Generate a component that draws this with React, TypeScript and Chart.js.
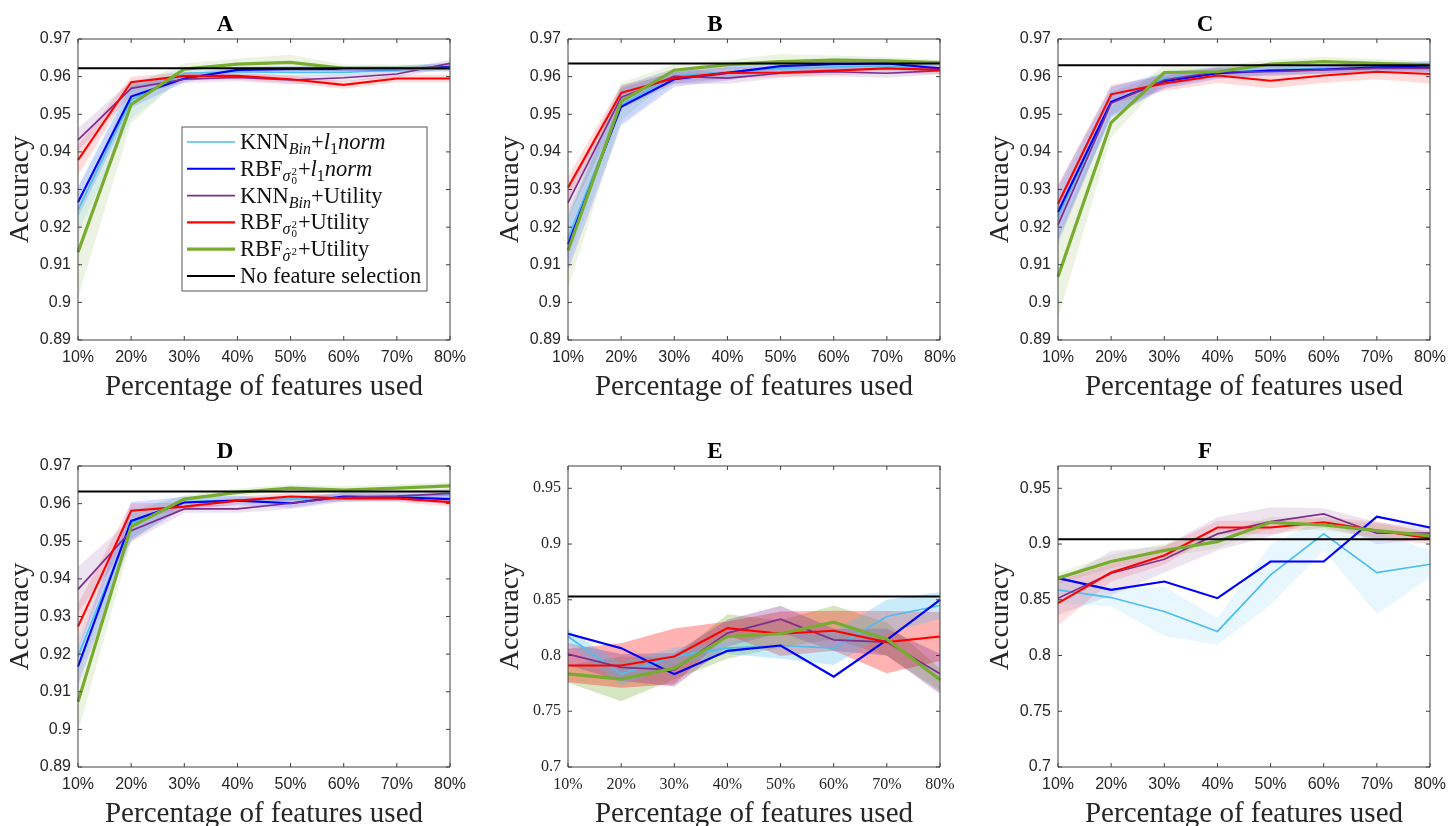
import React, { useEffect, useRef } from 'react'
import { Chart, registerables } from 'chart.js'

Chart.register(...registerables)

const featurePct = ['10%', '20%', '30%', '40%', '50%', '60%', '70%', '80%']
const yTicksHigh = [0.89, 0.9, 0.91, 0.92, 0.93, 0.94, 0.95, 0.96, 0.97]
const yTicksLow = [0.7, 0.75, 0.8, 0.85, 0.9, 0.95]

// order of rows in every mean / spread table below
const methodLabels = ['KNN_Bin+l1norm', 'RBF_σ0²+l1norm', 'KNN_Bin+Utility', 'RBF_σ0²+Utility', 'RBF_σ̂²+Utility']
const methodColors = ['#4DBEEE', '#0000FF', '#7E2F8E', '#FF0000', '#77AC30']
const methodWidths = [1.7, 2.1, 1.7, 2.1, 3.2]

// A
const meanA = [
  [0.9246, 0.9538, 0.9609, 0.9613, 0.9611, 0.9611, 0.9618, 0.9626],
  [0.9266, 0.9547, 0.9595, 0.9618, 0.962, 0.962, 0.962, 0.9626],
  [0.9432, 0.9569, 0.9593, 0.9598, 0.9591, 0.9597, 0.9607, 0.9635],
  [0.9378, 0.9585, 0.9602, 0.9602, 0.9593, 0.9578, 0.9595, 0.9595],
  [0.9133, 0.9526, 0.962, 0.9633, 0.9638, 0.9622, 0.9622, 0.9622],
]
const spreadA = [
  [0.006, 0.005, 0.0012, 0.001, 0.001, 0.001, 0.001, 0.0012],
  [0.004, 0.003, 0.001, 0.0008, 0.0008, 0.0008, 0.0008, 0.001],
  [0.003, 0.002, 0.001, 0.001, 0.0012, 0.001, 0.001, 0.001],
  [0.004, 0.0015, 0.001, 0.001, 0.001, 0.001, 0.001, 0.001],
  [0.012, 0.005, 0.0015, 0.0015, 0.002, 0.001, 0.001, 0.001],
]
const baseA = 0.9622

// B
const meanB = [
  [0.917, 0.9525, 0.9602, 0.9613, 0.9622, 0.9626, 0.9628, 0.9622],
  [0.9154, 0.952, 0.9593, 0.961, 0.9628, 0.9633, 0.9635, 0.9622],
  [0.9265, 0.9545, 0.9601, 0.9596, 0.9609, 0.9613, 0.9609, 0.9616],
  [0.9305, 0.9557, 0.9596, 0.961, 0.9611, 0.9616, 0.9622, 0.9618],
  [0.9138, 0.9534, 0.9617, 0.9632, 0.964, 0.9644, 0.9642, 0.9637],
]
const spreadB = [
  [0.006, 0.005, 0.002, 0.0015, 0.0015, 0.0012, 0.0012, 0.001],
  [0.007, 0.005, 0.002, 0.002, 0.0015, 0.0015, 0.0012, 0.001],
  [0.004, 0.003, 0.002, 0.0015, 0.0012, 0.0012, 0.0012, 0.001],
  [0.003, 0.002, 0.0015, 0.0015, 0.0012, 0.0012, 0.0015, 0.0012],
  [0.01, 0.005, 0.0015, 0.0012, 0.002, 0.0012, 0.001, 0.0008],
]
const baseB = 0.9635

// C
const meanC = [
  [0.9228, 0.9531, 0.9595, 0.9611, 0.9618, 0.9622, 0.9626, 0.9628],
  [0.924, 0.9533, 0.9588, 0.9609, 0.9616, 0.9619, 0.9625, 0.9626],
  [0.9206, 0.9529, 0.9591, 0.9613, 0.9613, 0.9618, 0.9622, 0.9622],
  [0.9262, 0.9553, 0.9582, 0.9603, 0.9589, 0.9603, 0.9613, 0.9607],
  [0.9068, 0.9478, 0.9611, 0.9613, 0.9633, 0.964, 0.9635, 0.9631],
]
const spreadC = [
  [0.007, 0.004, 0.002, 0.0015, 0.0012, 0.0012, 0.0012, 0.0012],
  [0.007, 0.004, 0.002, 0.0015, 0.0012, 0.0012, 0.001, 0.0015],
  [0.005, 0.003, 0.002, 0.0012, 0.0012, 0.001, 0.001, 0.001],
  [0.005, 0.0025, 0.002, 0.002, 0.002, 0.002, 0.002, 0.0025],
  [0.011, 0.004, 0.002, 0.0015, 0.0012, 0.0012, 0.0012, 0.001],
]
const baseC = 0.963

// D
const meanD = [
  [0.9194, 0.9548, 0.9605, 0.961, 0.9612, 0.9617, 0.962, 0.9623],
  [0.9167, 0.9554, 0.9603, 0.9608, 0.9601, 0.9619, 0.9617, 0.9612],
  [0.9372, 0.9528, 0.9586, 0.9586, 0.9601, 0.9617, 0.962, 0.9627],
  [0.9273, 0.9581, 0.9592, 0.9608, 0.9619, 0.9614, 0.9614, 0.9604],
  [0.9073, 0.9539, 0.9612, 0.963, 0.9641, 0.9636, 0.9641, 0.9647],
]
const spreadD = [
  [0.005, 0.004, 0.0015, 0.001, 0.001, 0.001, 0.001, 0.001],
  [0.005, 0.005, 0.0015, 0.0012, 0.0012, 0.001, 0.001, 0.0012],
  [0.006, 0.003, 0.001, 0.001, 0.0015, 0.0012, 0.0012, 0.0012],
  [0.006, 0.002, 0.001, 0.001, 0.001, 0.001, 0.001, 0.0012],
  [0.008, 0.004, 0.001, 0.001, 0.001, 0.001, 0.001, 0.001],
]
const baseD = 0.9632

// E
const meanE = [
  [0.8171, 0.7833, 0.7992, 0.8066, 0.809, 0.8066, 0.835, 0.8449],
  [0.8195, 0.8066, 0.7833, 0.8042, 0.809, 0.781, 0.8141, 0.8499],
  [0.8013, 0.7893, 0.7872, 0.8201, 0.8326, 0.8141, 0.812, 0.7836],
  [0.7911, 0.7911, 0.7992, 0.8246, 0.8195, 0.8222, 0.812, 0.8171],
  [0.7836, 0.7789, 0.7887, 0.8171, 0.8195, 0.8299, 0.8147, 0.7783],
]
const spreadE = [
  [0.006, 0.01, 0.008, 0.005, 0.012, 0.015, 0.015, 0.012],
  [0.001, 0.001, 0.001, 0.001, 0.001, 0.001, 0.001, 0.001],
  [0.01, 0.012, 0.015, 0.012, 0.012, 0.01, 0.012, 0.018],
  [0.015, 0.02, 0.025, 0.006, 0.02, 0.018, 0.028, 0.022],
  [0.008, 0.02, 0.01, 0.02, 0.012, 0.015, 0.015, 0.01],
]
const baseE = 0.853

// F
const meanF = [
  [0.8589, 0.852, 0.8395, 0.8216, 0.8723, 0.9091, 0.8744, 0.8819],
  [0.8694, 0.8589, 0.8664, 0.8514, 0.8843, 0.8843, 0.9246, 0.9148],
  [0.8514, 0.8738, 0.8864, 0.9091, 0.9201, 0.927, 0.9097, 0.9097],
  [0.847, 0.8744, 0.8897, 0.9148, 0.9148, 0.9195, 0.9121, 0.9052],
  [0.8694, 0.8843, 0.8942, 0.9022, 0.9195, 0.9171, 0.9121, 0.9076],
]
const spreadF = [
  [0.012, 0.008, 0.022, 0.012, 0.027, 0.015, 0.037, 0.012],
  [0.001, 0.001, 0.001, 0.001, 0.001, 0.001, 0.001, 0.001],
  [0.015, 0.02, 0.012, 0.015, 0.013, 0.005, 0.01, 0.005],
  [0.02, 0.008, 0.008, 0.006, 0.006, 0.005, 0.008, 0.005],
  [0.005, 0.006, 0.006, 0.006, 0.005, 0.005, 0.006, 0.004],
]
const baseF = 0.9043

const SERIF = '"Liberation Serif", "Times New Roman", serif'
const SANS = '"Liberation Sans", Arial, sans-serif'
const INK = '#262626'

type Seg = { t: string; it?: boolean; sub?: boolean; hat?: boolean; sup?: string; low?: string }

// legend text with the TeX subscripts of the original
const legendRich: Seg[][] = [
  [{ t: 'KNN' }, { t: 'Bin', it: true, sub: true }, { t: '+' }, { t: 'l', it: true }, { t: '1', sub: true }, { t: 'norm', it: true }],
  [{ t: 'RBF' }, { t: 'σ', it: true, sub: true, sup: '2', low: '0' }, { t: '+' }, { t: 'l', it: true }, { t: '1', sub: true }, { t: 'norm', it: true }],
  [{ t: 'KNN' }, { t: 'Bin', it: true, sub: true }, { t: '+Utility' }],
  [{ t: 'RBF' }, { t: 'σ', it: true, sub: true, sup: '2', low: '0' }, { t: '+Utility' }],
  [{ t: 'RBF' }, { t: 'σ', it: true, sub: true, hat: true, sup: '2' }, { t: '+Utility' }],
  [{ t: 'No feature selection' }],
]

function hexA(hex: string, a: number) {
  const n = parseInt(hex.slice(1), 16)
  return `rgba(${(n >> 16) & 255}, ${(n >> 8) & 255}, ${n & 255}, ${a})`
}

function drawRich(ctx: CanvasRenderingContext2D, segs: Seg[], x: number, base: number) {
  let cx = x
  ctx.textAlign = 'left'
  ctx.textBaseline = 'alphabetic'
  for (const s of segs) {
    const size = s.sub ? 16 : 22.5
    const dy = s.sub ? 5 : 0
    ctx.font = `${s.it ? 'italic ' : ''}${size}px ${SERIF}`
    ctx.fillText(s.t, cx, base + dy)
    const w = ctx.measureText(s.t).width
    if (s.hat) {
      ctx.font = `12px ${SERIF}`
      ctx.textAlign = 'center'
      ctx.fillText('ˆ', cx + w / 2 + 1, base + dy - 4)
      ctx.textAlign = 'left'
    }
    cx += w
    if (s.sup || s.low) {
      ctx.font = `11px ${SERIF}`
      let w2 = 0
      if (s.sup) {
        ctx.fillText(s.sup, cx + 1, base + dy - 6)
        w2 = Math.max(w2, ctx.measureText(s.sup).width)
      }
      if (s.low) {
        ctx.fillText(s.low, cx + 1, base + dy + 3)
        w2 = Math.max(w2, ctx.measureText(s.low).width)
      }
      cx += w2 + 2
    }
  }
}

// boxed axes with inward ticks on all four sides
const matlabFrame = {
  id: 'matlabFrame',
  afterDatasetsDraw(chart: any) {
    const { ctx, chartArea: a, scales } = chart
    const x = scales.x
    const y = scales.y
    ctx.save()
    ctx.strokeStyle = '#404040'
    ctx.lineWidth = 1
    ctx.beginPath()
    ctx.rect(a.left, a.top, a.right - a.left, a.bottom - a.top)
    x.ticks.forEach((_: any, i: number) => {
      const px = x.getPixelForTick(i)
      ctx.moveTo(px, a.bottom)
      ctx.lineTo(px, a.bottom - 4)
      ctx.moveTo(px, a.top)
      ctx.lineTo(px, a.top + 4)
    })
    y.ticks.forEach((_: any, i: number) => {
      const py = y.getPixelForTick(i)
      ctx.moveTo(a.left, py)
      ctx.lineTo(a.left + 4, py)
      ctx.moveTo(a.right, py)
      ctx.lineTo(a.right - 4, py)
    })
    ctx.stroke()
    ctx.restore()
  },
}

const texLegend = {
  id: 'texLegend',
  afterDraw(chart: any) {
    const { ctx, chartArea: a } = chart
    const right = a.right - 23
    const left = right - 245
    const top = a.top + 88
    const rowH = 26.8
    ctx.save()
    ctx.fillStyle = '#fff'
    ctx.fillRect(left, top, right - left, 164)
    ctx.strokeStyle = '#555'
    ctx.lineWidth = 1
    ctx.strokeRect(left, top, right - left, 164)
    legendRich.forEach((segs, i) => {
      const cy = top + 15 + i * rowH
      ctx.beginPath()
      ctx.strokeStyle = i < methodColors.length ? methodColors[i] : '#000'
      ctx.lineWidth = i < methodWidths.length ? methodWidths[i] : 2
      ctx.moveTo(left + 5, cy)
      ctx.lineTo(left + 53, cy)
      ctx.stroke()
      ctx.fillStyle = '#111'
      drawRich(ctx, segs, left + 58, cy + 7)
    })
    ctx.restore()
  },
}

type PanelProps = {
  title: string
  means: number[][]
  spreads: number[][]
  base: number
  yTicks: number[]
  serifTicks?: boolean
  bandAlpha: number
  legend?: boolean
  left: number
  top: number
}

function Panel({ title, means, spreads, base, yTicks, serifTicks, bandAlpha, legend, left, top }: PanelProps) {
  const canvasRef = useRef<HTMLCanvasElement | null>(null)

  useEffect(() => {
    if (!canvasRef.current) return

    const tickFont = { family: serifTicks ? SERIF : SANS, size: 16 }

    const bands = means.flatMap((m, i) => [
      {
        label: methodLabels[i] + ' upper',
        data: m.map((v, j) => v + spreads[i][j]),
        fill: '+1',
        backgroundColor: hexA(methodColors[i], bandAlpha),
        borderColor: 'rgba(0,0,0,0)',
        borderWidth: 0,
        pointRadius: 0,
        order: 10,
      },
      {
        label: methodLabels[i] + ' lower',
        data: m.map((v, j) => v - spreads[i][j]),
        fill: false,
        borderColor: 'rgba(0,0,0,0)',
        borderWidth: 0,
        pointRadius: 0,
        order: 10,
      },
    ])
    const lines = means.map((m, i) => ({
      label: methodLabels[i],
      data: m,
      fill: false,
      borderColor: methodColors[i],
      borderWidth: methodWidths[i],
      pointRadius: 0,
      order: 5 - i,
    }))
    const reference = {
      label: 'No feature selection',
      data: featurePct.map(() => base),
      fill: false,
      borderColor: '#000',
      borderWidth: 2,
      pointRadius: 0,
      order: 0,
    }

    const chart = new Chart(canvasRef.current, {
      type: 'line',
      data: { labels: featurePct, datasets: [...bands, ...lines, reference] as any },
      options: {
        responsive: false,
        animation: false,
        layout: { padding: { right: 30 } },
        elements: { line: { tension: 0 } },
        plugins: {
          legend: { display: false },
          tooltip: { enabled: false },
          title: {
            display: true,
            text: title,
            color: '#000',
            font: { family: SERIF, size: 23, weight: 'bold', lineHeight: 1 },
            padding: { top: 13.5, bottom: 2.5 },
          },
        },
        scales: {
          x: {
            type: 'category',
            offset: false,
            grid: { display: false, drawTicks: false },
            border: { display: false },
            ticks: { color: INK, font: tickFont, padding: 8, maxRotation: 0, autoSkip: false },
            title: {
              display: true,
              text: 'Percentage of features used',
              color: INK,
              font: { family: SERIF, size: 29, lineHeight: 1 },
              padding: { top: 0, bottom: 8.5 },
            },
            afterFit: (s: any) => {
              s.height = 70
            },
          },
          y: {
            type: 'linear',
            min: yTicks[0],
            max: 0.97,
            grid: { display: false, drawTicks: false },
            border: { display: false },
            afterBuildTicks: (s: any) => {
              s.ticks = yTicks.map((v) => ({ value: v }))
            },
            ticks: {
              color: INK,
              font: tickFont,
              padding: 7,
              callback: (v: any) => String(Number(Number(v).toFixed(3))),
            },
            title: {
              display: true,
              text: 'Accuracy',
              color: INK,
              font: { family: SERIF, size: 28, lineHeight: 1 },
              padding: { top: 6.5, bottom: 0 },
            },
            afterFit: (s: any) => {
              s.width = 78
            },
          },
        },
      } as any,
      plugins: legend ? [matlabFrame, texLegend] : [matlabFrame],
    })

    return () => {
      chart.destroy()
    }
  }, [title, means, spreads, base, yTicks, serifTicks, bandAlpha, legend])

  return (
    <canvas
      ref={canvasRef}
      width={480}
      height={410}
      style={{ position: 'absolute', left, top, width: 480, height: 410 }}
    />
  )
}

export default function App() {
  return (
    <div style={{ position: 'absolute', left: 0, top: 0, width: 1449, height: 826, overflow: 'hidden', background: '#fff' }}>
      <Panel title="A" means={meanA} spreads={spreadA} base={baseA} yTicks={yTicksHigh} bandAlpha={0.14} legend left={0} top={0} />
      <Panel title="B" means={meanB} spreads={spreadB} base={baseB} yTicks={yTicksHigh} bandAlpha={0.14} left={490} top={0} />
      <Panel title="C" means={meanC} spreads={spreadC} base={baseC} yTicks={yTicksHigh} bandAlpha={0.14} left={980} top={0} />
      <Panel title="D" means={meanD} spreads={spreadD} base={baseD} yTicks={yTicksHigh} bandAlpha={0.14} left={0} top={427} />
      <Panel title="E" means={meanE} spreads={spreadE} base={baseE} yTicks={yTicksLow} serifTicks bandAlpha={0.3} left={490} top={427} />
      <Panel title="F" means={meanF} spreads={spreadF} base={baseF} yTicks={yTicksLow} bandAlpha={0.13} left={980} top={427} />
    </div>
  )
}
